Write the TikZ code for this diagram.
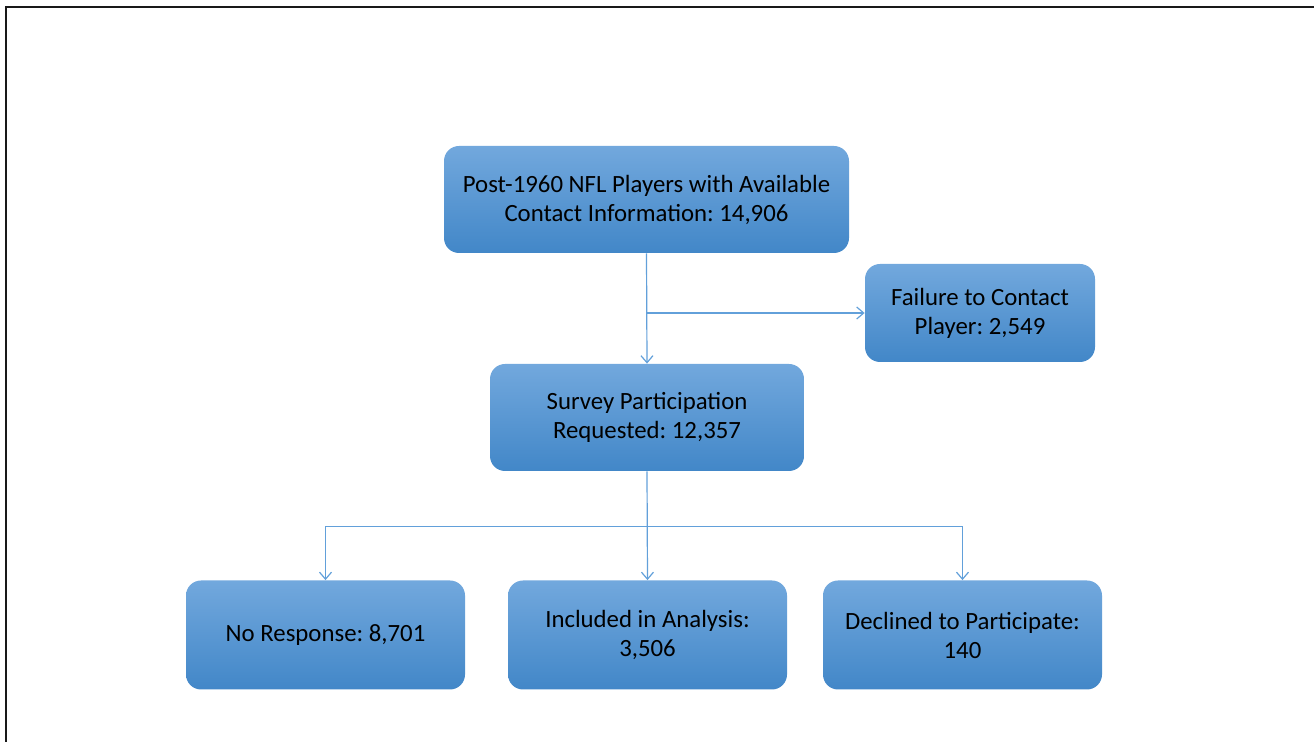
\documentclass[tikz,border=0pt]{standalone}
\usepackage{fontspec}
\setmainfont{Carlito}
\usepackage{xcolor}
\usetikzlibrary{arrows.meta,positioning,calc}

\definecolor{boxtop}{RGB}{114,168,221}
\definecolor{boxbot}{RGB}{66,135,200}
\definecolor{linkblue}{RGB}{98,160,218}

\begin{document}
\frenchspacing
\begin{tikzpicture}[
    x=0.5pt, y=-0.5pt,
    stepbox/.style={rectangle, rounded corners=7.5pt, top color=boxtop, bottom color=boxbot,
        draw=none, align=center, inner sep=2pt, text=black,
        font=\fontsize{12.4}{14.5}\selectfont},
    link/.style={draw=linkblue, line width=0.6pt, -{Straight Barb[length=3.5pt,width=6pt]}},
    frameline/.style={draw=black!90, line width=1.4pt}]
\useasboundingbox (0,0) rectangle (1314,742);
\path[frameline] (6,742) -- (6,7) -- (1314,7);

% boxes
\node[stepbox, minimum width=202.5pt, minimum height=53.5pt] (players) at (646.5,199.5)
    {Post-1960 NFL Players with Available\\Contact Information: 14,906};
\node[stepbox, minimum width=115pt, minimum height=49pt] (failure) at (980,313)
    {Failure to Contact\\Player: 2,549};
\node[stepbox, minimum width=157pt, minimum height=53.5pt] (survey) at (647,417.5)
    {Survey Participation\\Requested: 12,357};
\node[stepbox, minimum width=139.5pt, minimum height=54.5pt] (noresp) at (325.5,635)
    {No Response: 8,701};
\node[stepbox, minimum width=139.5pt, minimum height=54.5pt] (included) at (647.5,635)
    {Included in Analysis:\\3,506};
\node[stepbox, minimum width=139.5pt, minimum height=54.5pt] (declined) at (962.5,635)
    {Declined to Participate:\\140};

% connectors
\coordinate (split) at (players.south |- failure.west);
\coordinate (bus) at ($(survey.south)+(0,55)$);
\draw[link] (players.south) -- (survey.north);
\draw[link] (split) -- (failure.west);
\draw[link] (survey.south) -- (included.north);
\draw[link] (bus) -| (noresp.north);
\draw[link] (bus) -| (declined.north);

\end{tikzpicture}
\end{document}
